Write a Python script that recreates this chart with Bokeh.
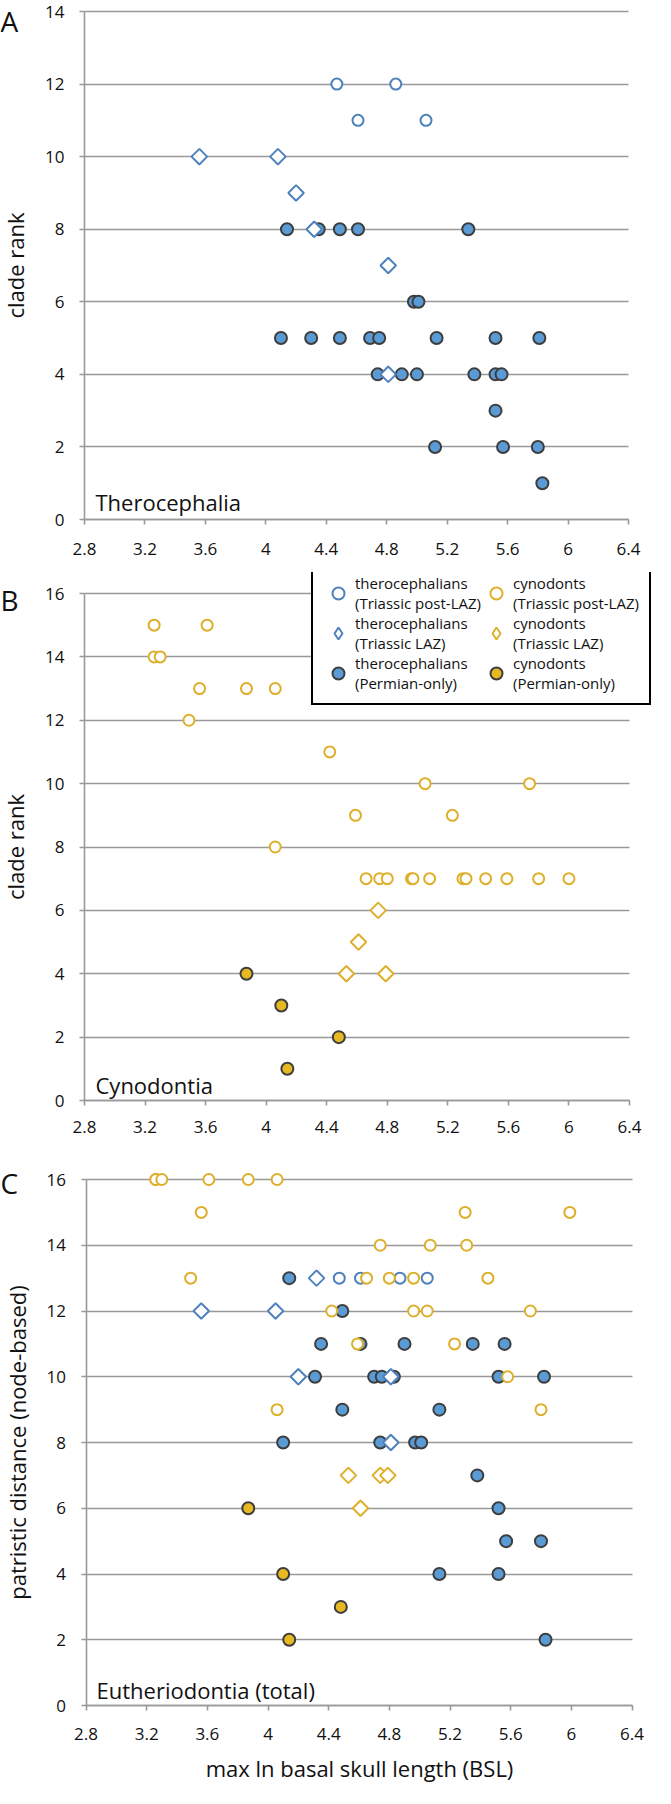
import math
from bokeh.plotting import figure
from bokeh.models import Range1d, FixedTicker, Label, Legend, LegendItem
from bokeh.layouts import column
from bokeh.embed import file_html
from bokeh.resources import INLINE

FONT = "Open Sans"
BLUE_LINE = "#4F81BD"
BLUE_FILL = "#5B9BD5"
GOLD_LINE = "#DEAF2A"
GOLD_FILL = "#E6B822"
DARK = "#3D3D3D"
GRID = "#999999"
TEXT = "#111111"

# ---------------- ticks ----------------
x_ticks = [2.8, 3.2, 3.6, 4.0, 4.4, 4.8, 5.2, 5.6, 6.0, 6.4]
x_tick_labels = ["2.8", "3.2", "3.6", "4", "4.4", "4.8", "5.2", "5.6", "6", "6.4"]
y_ticks_a = [0, 2, 4, 6, 8, 10, 12, 14]
y_ticks_bc = [0, 2, 4, 6, 8, 10, 12, 14, 16]

# ---------------- panel A: Therocephalia (clade rank) ----------------
a_thero_post_x = [4.47, 4.86, 4.61, 5.06]
a_thero_post_y = [12, 12, 11, 11]
a_thero_laz_x = [3.56, 4.08, 4.20, 4.32, 4.81, 4.81]
a_thero_laz_y = [10, 10, 9, 8, 7, 4]
a_thero_perm_x = [4.14, 4.35, 4.49, 4.61, 5.34, 4.98, 5.01, 4.10, 4.30, 4.49, 4.69, 4.75, 5.13,
                  5.52, 5.81, 4.74, 4.90, 5.00, 5.38, 5.52, 5.56, 5.52, 5.12, 5.57, 5.80, 5.83]
a_thero_perm_y = [8, 8, 8, 8, 8, 6, 6, 5, 5, 5, 5, 5, 5,
                  5, 5, 4, 4, 4, 4, 4, 4, 3, 2, 2, 2, 1]

# ---------------- panel B: Cynodontia (clade rank) ----------------
b_cyn_post_x = [3.26, 3.61, 3.26, 3.30, 3.56, 3.87, 4.06, 3.49, 4.42, 5.05, 5.74, 4.59, 5.23,
                4.06, 4.66, 4.75, 4.80, 4.96, 4.97, 5.08, 5.30, 5.32, 5.45, 5.59, 5.80, 6.00]
b_cyn_post_y = [15, 15, 14, 14, 13, 13, 13, 12, 11, 10, 10, 9, 9,
                8, 7, 7, 7, 7, 7, 7, 7, 7, 7, 7, 7, 7]
b_cyn_laz_x = [4.74, 4.61, 4.53, 4.79]
b_cyn_laz_y = [6, 5, 4, 4]
b_cyn_perm_x = [3.87, 4.10, 4.48, 4.14]
b_cyn_perm_y = [4, 3, 2, 1]

# ---------------- panel C: Eutheriodontia (patristic distance) ----------------
c_thero_post_x = [4.47, 4.61, 4.87, 5.05]
c_thero_post_y = [13, 13, 13, 13]
c_thero_laz_x = [4.32, 3.56, 4.05, 4.20, 4.81, 4.81]
c_thero_laz_y = [13, 12, 12, 10, 10, 8]
c_thero_perm_x = [4.14, 4.49, 4.35, 4.61, 4.90, 5.35, 5.56, 4.31, 4.70, 4.75, 4.83, 5.52, 5.82,
                  4.49, 5.13, 4.10, 4.74, 4.97, 5.01, 5.38, 5.52, 5.57, 5.80, 5.13, 5.52, 5.83]
c_thero_perm_y = [13, 12, 11, 11, 11, 11, 11, 10, 10, 10, 10, 10, 10,
                  9, 9, 8, 8, 8, 8, 7, 6, 5, 5, 4, 4, 2]
c_cyn_post_x = [3.26, 3.26, 3.30, 3.61, 3.87, 4.06, 3.56, 5.30, 5.99, 4.74, 5.07, 5.31, 3.49,
                4.65, 4.80, 4.96, 5.45, 4.42, 4.96, 5.05, 5.73, 4.59, 5.23, 5.58, 4.06, 5.80]
c_cyn_post_y = [16, 16, 16, 16, 16, 16, 15, 15, 15, 14, 14, 14, 13,
                13, 13, 13, 13, 12, 12, 12, 12, 11, 11, 10, 9, 9]
c_cyn_laz_x = [4.53, 4.74, 4.79, 4.61]
c_cyn_laz_y = [7, 7, 7, 6]
c_cyn_perm_x = [3.87, 4.10, 4.48, 4.14]
c_cyn_perm_y = [6, 4, 3, 2]

legend_labels = [
    "therocephalians\n(Triassic post-LAZ)",
    "therocephalians\n(Triassic LAZ)",
    "therocephalians\n(Permian-only)",
    "cynodonts\n(Triassic post-LAZ)",
    "cynodonts\n(Triassic LAZ)",
    "cynodonts\n(Permian-only)",
]

STYLES = {
    "thero_post": dict(marker="circle", size=11, fill_color="white", line_color=BLUE_LINE, line_width=2),
    "thero_laz": dict(marker="square", angle=math.pi / 4, size=11, fill_color="white",
                      line_color=BLUE_LINE, line_width=2),
    "thero_perm": dict(marker="circle", size=12, fill_color=BLUE_FILL, line_color=DARK, line_width=2),
    "cyn_post": dict(marker="circle", size=11, fill_color="white", line_color=GOLD_LINE, line_width=2),
    "cyn_laz": dict(marker="square", angle=math.pi / 4, size=11, fill_color="white",
                    line_color=GOLD_LINE, line_width=2),
    "cyn_perm": dict(marker="circle", size=12, fill_color=GOLD_FILL, line_color=DARK, line_width=2),
}

# ---------------- layout (page pixel positions) ----------------
PAGE_OFF = 8
W = 660


def base_fig(canvas_top, canvas_bottom, px_xlo, px_xhi, px_y0, px_ytop, y_ticks,
             y_label, x_std, y_label_std=12):
    height = canvas_bottom - canvas_top
    x_lo, x_hi = x_ticks[0], x_ticks[-1]
    y_lo, y_hi = y_ticks[0], y_ticks[-1]
    kx = (px_xhi - px_xlo) / (x_hi - x_lo)
    ky = (px_y0 - px_ytop) / (y_hi - y_lo)
    xs = x_lo - (px_xlo - PAGE_OFF) / kx
    xe = x_hi + (PAGE_OFF + W - px_xhi) / kx
    ye = y_hi + (px_ytop - canvas_top) / ky
    ys = y_lo - (canvas_bottom - px_y0) / ky
    p = figure(width=W, height=height, x_range=Range1d(xs, xe), y_range=Range1d(ys, ye),
               output_backend="svg", toolbar_location=None, title=None,
               min_border=0, min_border_left=0, min_border_right=0, min_border_top=0,
               min_border_bottom=0,
               outline_line_color=None, background_fill_color="white", border_fill_color="white")
    p.xgrid.visible = False
    g = p.ygrid[0]
    g.ticker = FixedTicker(ticks=y_ticks)
    g.grid_line_color = GRID
    g.grid_line_width = 1.6
    if "cross_bounds" in g.properties():
        g.cross_bounds = (x_lo, x_hi)
        g.bounds = (y_lo, y_hi)
    else:
        g.visible = False
        p.segment(x0=[x_lo] * len(y_ticks), x1=[x_hi] * len(y_ticks), y0=y_ticks, y1=y_ticks,
                  line_color=GRID, line_width=1.6, level="underlay")
    for ax in (p.xaxis[0], p.yaxis[0]):
        ax.axis_line_color = GRID
        ax.axis_line_width = 1.6
        ax.major_tick_line_color = GRID
        ax.major_tick_line_width = 1.6
        ax.major_tick_out = 5
        ax.major_tick_in = 0
        ax.minor_tick_line_color = None
        ax.major_label_text_font = FONT
        ax.major_label_text_font_size = "17px"
        ax.major_label_text_color = TEXT
        ax.axis_label_text_font = FONT
        ax.axis_label_text_font_size = "22px"
        ax.axis_label_text_font_style = "normal"
        ax.axis_label_text_color = TEXT
    xa = p.xaxis[0]
    xa.ticker = FixedTicker(ticks=x_ticks)
    xa.major_label_overrides = {t: l for t, l in zip(x_ticks, x_tick_labels)}
    xa.major_label_standoff = x_std
    xa.fixed_location = y_lo
    xa.bounds = (x_lo, x_hi)
    ya = p.yaxis[0]
    ya.ticker = FixedTicker(ticks=y_ticks)
    ya.major_label_standoff = 15
    ya.axis_label = y_label
    ya.axis_label_standoff = y_label_std
    ya.fixed_location = x_lo
    ya.bounds = (y_lo, y_hi)
    return p


def add_series(p, xs, ys, key):
    return p.scatter(x=xs, y=ys, **STYLES[key])


def add_label(p, canvas_bottom, page_x, page_y, text, size):
    p.add_layout(Label(x=page_x - PAGE_OFF, y=canvas_bottom - page_y,
                       x_units="screen", y_units="screen", text=text,
                       text_font=FONT, text_font_size=size, text_color=TEXT,
                       text_baseline="alphabetic", text_align="left"))


# ---------------- Panel A ----------------
A_TOP, A_BOT = 8, 580
pA = base_fig(A_TOP, A_BOT, 92, 636, 527, 19, y_ticks_a, "clade rank", 18)
add_series(pA, a_thero_perm_x, a_thero_perm_y, "thero_perm")
add_series(pA, a_thero_laz_x, a_thero_laz_y, "thero_laz")
add_series(pA, a_thero_post_x, a_thero_post_y, "thero_post")
add_label(pA, A_BOT, 8, 28, "A", "28px")
add_label(pA, A_BOT, 103, 509, "Therocephalia", "22px")

# ---------------- Panel B ----------------
B_TOP, B_BOT = 580, 1160
pB = base_fig(B_TOP, B_BOT, 92, 637, 1108, 601, y_ticks_bc, "clade rank", 15)
add_series(pB, b_cyn_perm_x, b_cyn_perm_y, "cyn_perm")
add_series(pB, b_cyn_laz_x, b_cyn_laz_y, "cyn_laz")
add_series(pB, b_cyn_post_x, b_cyn_post_y, "cyn_post")
add_label(pB, B_BOT, 8, 607, "B", "28px")
add_label(pB, B_BOT, 103, 1092, "Cynodontia", "22px")

leg_keys = ["thero_post", "thero_laz", "thero_perm", "cyn_post", "cyn_laz", "cyn_perm"]
leg_items = []
for key, lab in zip(leg_keys, legend_labels):
    st = dict(STYLES[key])
    if st["marker"] == "square":
        st["marker"] = "diamond"
        st.pop("angle")
    r = pB.scatter(x=[float("nan")], y=[float("nan")], **st)
    leg_items.append(LegendItem(label=lab, renderers=[r]))

legend = Legend(items=leg_items, location=(319 - PAGE_OFF, B_BOT - 713), orientation="vertical",
                ncols=2,
                border_line_color="black", border_line_width=2, border_line_alpha=1,
                background_fill_color="white", background_fill_alpha=1,
                label_text_font=FONT, label_text_font_size="15px", label_text_color=TEXT,
                label_text_line_height=0.88,
                padding=10, margin=0, spacing=0, glyph_width=30, glyph_height=32,
                label_standoff=2)
pB.add_layout(legend)

# ---------------- Panel C ----------------
C_TOP, C_BOT = 1160, 1796
pC = base_fig(C_TOP, C_BOT, 93.5, 639.5, 1713, 1187, y_ticks_bc,
              "patristic distance (node-based)", 17)
pC.xaxis.axis_label = "max ln basal skull length (BSL)"
pC.xaxis.axis_label_standoff = 10
add_series(pC, c_thero_perm_x, c_thero_perm_y, "thero_perm")
add_series(pC, c_cyn_perm_x, c_cyn_perm_y, "cyn_perm")
add_series(pC, c_thero_laz_x, c_thero_laz_y, "thero_laz")
add_series(pC, c_cyn_laz_x, c_cyn_laz_y, "cyn_laz")
add_series(pC, c_thero_post_x, c_thero_post_y, "thero_post")
add_series(pC, c_cyn_post_x, c_cyn_post_y, "cyn_post")
add_label(pC, C_BOT, 8, 1190, "C", "28px")
add_label(pC, C_BOT, 104, 1697, "Eutheriodontia (total)", "22px")

layout = column(pA, pB, pC, spacing=0)
open("out.html", "w").write(file_html(layout, INLINE))
